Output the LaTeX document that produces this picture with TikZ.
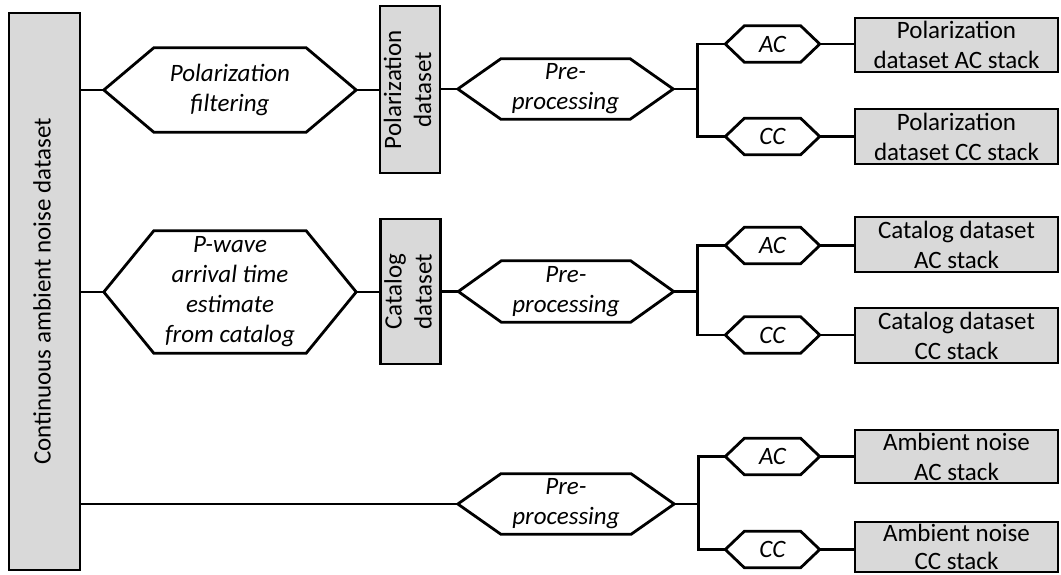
\documentclass[tikz,border=0pt]{standalone}
\usepackage{fontspec}
\setmainfont{Carlito}
\usepackage{graphicx}
\definecolor{boxgray}{HTML}{D9D9D9}
\newcommand{\fs}{\fontsize{25}{30}\selectfont}
\newcommand{\vtext}[1]{\rotatebox{90}{\begin{tabular}{@{}c@{}}#1\end{tabular}}}
\tikzset{
  ln/.style={line width=2.8pt, black},
  gbox/.style={draw, ln, fill=boxgray, inner sep=0pt, align=center, font=\fs},
  hexa/.style={inner sep=0pt, align=center, font=\fs\itshape},
}
\begin{document}
\begin{tikzpicture}[x=1pt, y=-1pt]
\useasboundingbox (0,0) rectangle (1061,575);

% source dataset
\node[gbox, minimum width=71, minimum height=557] (src) at (44.5,291.5)
  {\vtext{Continuous ambient noise dataset}};

% selection steps (hexagon bodies)
\node[hexa, minimum width=152, minimum height=84]  (pf) at (230,90)  {Polarization\\filtering};
\node[hexa, minimum width=152, minimum height=122] (pw) at (230,292) {P-wave\\arrival time\\estimate\\from catalog};

% derived datasets
\node[gbox, minimum width=54, minimum height=167] (pd) at (410,89.5)  {\vtext{Polarization\\dataset}};
\node[gbox, minimum width=55, minimum height=145] (cd) at (410.5,291.5) {\vtext{Catalog\\dataset}};

% pre-processing
\node[hexa, minimum width=129, minimum height=60] (pp1) at (565.5,89)  {Pre-\\processing};
\node[hexa, minimum width=129, minimum height=61] (pp2) at (566,291.5) {Pre-\\processing};
\node[hexa, minimum width=130, minimum height=60] (pp3) at (566,504)   {Pre-\\processing};

% correlation types
\foreach \n/\t/\y in {ac1/AC/44, cc1/CC/136.5, ac2/AC/245.5, cc2/CC/335, ac3/AC/456.5, cc3/CC/549.5}
  \node[hexa, minimum width=56, minimum height=36] (\n) at (772.5,\y) {\t};

% stacks
\node[gbox, minimum width=203, minimum height=54] (o1a) at (956.5,45)    {Polarization\\dataset AC stack};
\node[gbox, minimum width=203, minimum height=55] (o1c) at (956.5,136.5) {Polarization\\dataset CC stack};
\node[gbox, minimum width=203, minimum height=55] (o2a) at (956.5,244.5) {Catalog dataset\\AC stack};
\node[gbox, minimum width=203, minimum height=55] (o2c) at (956.5,335.5) {Catalog dataset\\CC stack};
\node[gbox, minimum width=203, minimum height=53] (o3a) at (956.5,456.5) {Ambient noise\\AC stack};
\node[gbox, minimum width=203, minimum height=50, font=\fontsize{25}{28}\selectfont, text depth=0pt]
  (o3c) at (956.5,547) {Ambient noise\\CC stack};

% hexagon outlines and their tips
\foreach \n/\d in {pf/50, pw/50, pp1/43, pp2/43, pp3/43, ac1/19, cc1/19, ac2/19, cc2/19, ac3/19, cc3/19} {
  \coordinate (\n-l) at ([xshift=-\d pt]\n.west);
  \coordinate (\n-r) at ([xshift=\d pt]\n.east);
  \draw[ln, line join=miter] (\n.north west) -- (\n.north east) -- (\n-r)
    -- (\n.south east) -- (\n.south west) -- (\n-l) -- cycle;
}

% main chains
\draw[ln] (src.east |- pf-l) -- (pf-l);
\draw[ln] (pf-r) -- (pf-r -| pd.west);
\draw[ln] (pd.east |- pp1-l) -- (pp1-l);

\draw[ln] (src.east |- pw-l) -- (pw-l);
\draw[ln] (pw-r) -- (pw-r -| cd.west);
\draw[ln] (cd.east |- pp2-l) -- (pp2-l);

\draw[ln] (src.east |- pp3-l) -- (pp3-l);

% AC / CC branches
\foreach \i in {1,2,3} {
  \coordinate (b\i) at ([xshift=24pt]pp\i-r);
  \draw[ln] (pp\i-r) -- (b\i);
  \draw[ln] (ac\i-l) -| (b\i) |- (cc\i-l);
}
\draw[ln] (ac1-r) -- (ac1-r -| o1a.west);
\draw[ln] (cc1-r) -- (cc1-r -| o1c.west);
\draw[ln] (ac2-r) -- (ac2-r -| o2a.west);
\draw[ln] (cc2-r) -- (cc2-r -| o2c.west);
\draw[ln] (ac3-r) -- (ac3-r -| o3a.west);
\draw[ln] (cc3-r) -- (cc3-r -| o3c.west);
\end{tikzpicture}
\end{document}
